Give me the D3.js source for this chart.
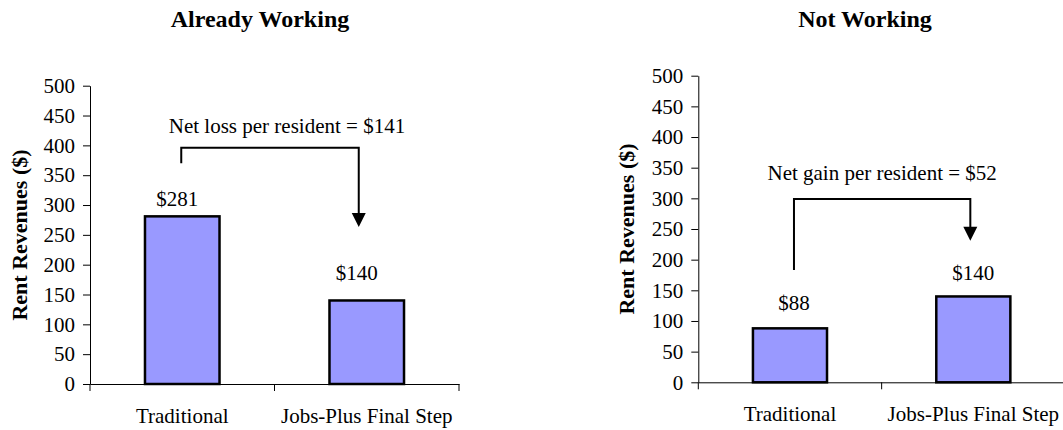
<!DOCTYPE html>
<html>
<head>
<meta charset="utf-8">
<script src="https://cdn.jsdelivr.net/npm/d3@7"></script>
<style>
	body { margin: 0; background: #fff; }
	svg { display: block; }
</style>
</head>
<body>
<svg id="chart" width="1063" height="430"></svg>
<script>
// data
const categories = ['Traditional', 'Jobs-Plus Final Step']
const titles = ['Already Working', 'Not Working']
const alreadyWorking = [281, 140]
const notWorking = [88, 140]
const yTicks = [0, 50, 100, 150, 200, 250, 300, 350, 400, 450, 500]
const annotations = ['Net loss per resident = $141', 'Net gain per resident = $52']
// bracket values: [text baseline, bracket top, left leg end, arrow tip]
const bracketValues = [[421, 396, 370, 263], [330, 299, 183, 231]]

const FONT = 'Liberation Serif'

const svg = d3.select('#chart')

// layout of each panel
const panels = [
	{ values: alreadyWorking, left: 90, right: 459, top: 85.7, bottom: 384, titleX: 260, labelX: 27, labelY: 235,
		legDx: [-1, -8], labelNudge: [[-5, -10], [-10, -20]] },
	{ values: notWorking, left: 698.3, right: 1065, top: 75.7, bottom: 382.3, titleX: 865, labelX: 634, labelY: 229,
		legDx: [4, -3], labelNudge: [[4, -18], [0, -16]] }
]

panels.forEach((p, i) => {
	const g = svg.append('g').attr('font-family', FONT)

	const x = d3.scaleBand().domain(categories).range([p.left, p.right]).padding(0)
	const y = d3.scaleLinear().domain([0, 500]).range([p.bottom, p.top])
	const barW = x.bandwidth() * 0.404
	const cx = d => x(d) + x.bandwidth() / 2

	// title
	g.append('text')
		.attr('x', p.titleX)
		.attr('y', 27)
		.attr('text-anchor', 'middle')
		.attr('font-family', FONT)
		.attr('font-size', 24)
		.attr('font-weight', 'bold')
		.text(titles[i])

	// y axis
	const yAxis = g.append('g')
		.attr('transform', `translate(${p.left},0)`)
		.call(d3.axisLeft(y).tickValues(yTicks).tickSize(7).tickSizeOuter(0).tickPadding(8))
	yAxis.attr('font-family', FONT).attr('font-size', 21)
	yAxis.selectAll('text').attr('fill', '#000')
	yAxis.selectAll('line, path').attr('stroke', '#000')

	g.append('text')
		.attr('transform', `translate(${p.labelX},${p.labelY}) rotate(-90)`)
		.attr('text-anchor', 'middle')
		.attr('font-family', FONT)
		.attr('font-size', 22)
		.attr('font-weight', 'bold')
		.text('Rent Revenues ($)')

	// bars
	g.selectAll('rect.bar')
		.data(p.values)
		.join('rect')
		.attr('class', 'bar')
		.attr('x', (d, j) => cx(categories[j]) - barW / 2)
		.attr('y', d => y(d))
		.attr('width', barW)
		.attr('height', d => y(0) - y(d))
		.attr('fill', '#9999FF')
		.attr('stroke', '#000')
		.attr('stroke-width', 2.5)

	// x axis
	const xAxis = g.append('g')
		.attr('transform', `translate(0,${p.bottom})`)
		.call(d3.axisBottom(x).tickSize(0).tickPadding(24))
	xAxis.attr('font-family', FONT).attr('font-size', 21)
	xAxis.select('.domain').attr('stroke', '#000')
	xAxis.selectAll('text').attr('fill', '#000')
	const bounds = categories.map(d => x(d)).concat([x.range()[1]])
	xAxis.selectAll('line.sep')
		.data(bounds)
		.join('line')
		.attr('class', 'sep')
		.attr('x1', d => d).attr('x2', d => d)
		.attr('y1', 0).attr('y2', 7)
		.attr('stroke', '#000')

	// value labels
	g.selectAll('text.val')
		.data(p.values)
		.join('text')
		.attr('class', 'val')
		.attr('x', (d, j) => cx(categories[j]) + p.labelNudge[j][0])
		.attr('y', (d, j) => y(d) + p.labelNudge[j][1])
		.attr('text-anchor', 'middle')
		.attr('font-family', FONT)
		.attr('font-size', 21)
		.text(d => '$' + d)

	// annotation bracket
	const [tv, topV, legV, tipV] = bracketValues[i]
	const x1 = cx(categories[0]) + p.legDx[0]
	const x2 = cx(categories[1]) + p.legDx[1]
	g.append('text')
		.attr('x', (x1 + x2) / 2 + (i === 0 ? 17 : 0))
		.attr('y', y(tv))
		.attr('text-anchor', 'middle')
		.attr('font-family', FONT)
		.attr('font-size', 21)
		.text(annotations[i])

	g.append('path')
		.attr('d', `M${x1},${y(legV)}V${y(topV)}H${x2}V${y(tipV) - 12}`)
		.attr('fill', 'none')
		.attr('stroke', '#000')
		.attr('stroke-width', 2)

	g.append('path')
		.attr('d', `M${x2 - 7},${y(tipV) - 14}L${x2 + 7},${y(tipV) - 14}L${x2},${y(tipV)}Z`)
		.attr('fill', '#000')
})
</script>
</body>
</html>
